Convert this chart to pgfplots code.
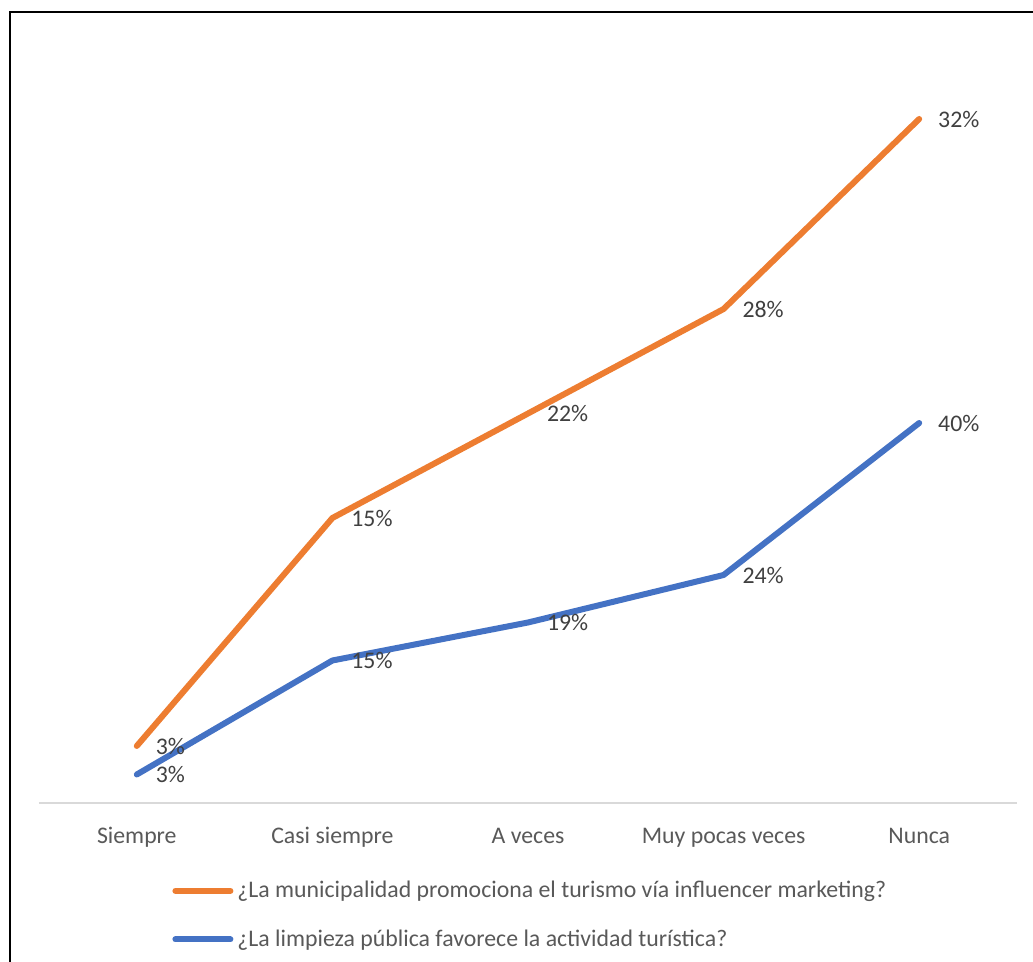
\documentclass[border=0pt]{standalone}
\usepackage{pgfplots}
\pgfplotsset{compat=1.18}
\usepackage{pgfplotstable}
\usepackage{fontspec}
\setmainfont{Carlito}
\definecolor{orangeS}{HTML}{ED7D31}
\definecolor{blueS}{HTML}{4472C4}
\definecolor{txt}{HTML}{595959}
\definecolor{lbl}{HTML}{404040}
\definecolor{axisgray}{HTML}{D9D9D9}

% blue series: ¿La limpieza pública favorece la actividad turística?
\pgfplotstableread{
x y
0 3
1 15
2 19
3 24
4 40
}\blueT
% orange series: ¿La municipalidad promociona el turismo vía influencer marketing?
\pgfplotstableread{
x y
0 3
1 15
2 22
3 28
4 32
}\orangeT

\begin{document}
\begin{tikzpicture}
\useasboundingbox (0,0) rectangle (516.5pt,481pt);
\draw[line width=1pt, black] (5pt,-2pt) -- (5pt,475pt) -- (520pt,475pt);
\begin{axis}[
  at={(19.5pt,79.5pt)}, anchor=south west,
  scale only axis, width=489pt, height=380pt,
  xmin=-0.5, xmax=4.5, ymin=0, ymax=80,
  stack plots=y,
  axis x line*=bottom, axis y line=none,
  x axis line style={-, draw=axisgray, line width=1pt},
  xtick={0,1,2,3,4},
  xticklabels={Siempre, Casi siempre, A veces, Muy pocas veces, Nunca},
  major tick length=0pt,
  ytick=\empty,
  xticklabel style={font=\fontsize{11.9}{14}\selectfont, text=txt, anchor=base, yshift=-20.5pt},
  clip=false,
  point meta=explicit,
  /pgf/number format/assume math mode=true,
  nodes near coords={\pgfmathprintnumber{\pgfplotspointmeta}\%},
  every node near coord/.append style={anchor=west, inner sep=0pt, xshift=8pt, font=\fontsize{11.9}{14}\selectfont, text=lbl},
  reverse legend,
  legend image code/.code={\draw[#1, line width=3pt, line cap=round] (0pt,0pt) -- (27.5pt,0pt);},
  legend style={at={(0.136,-0.097)}, anchor=north west, draw=none, fill=none,
    font=\fontsize{11.9}{14}\selectfont, text=txt, row sep=10.5pt, inner sep=0pt},
  legend cell align=left,
]
\addplot[blueS, line width=3pt, line cap=round, line join=round] table[x=x, y=y, meta=y] {\blueT};
\addlegendentry{¿La limpieza pública favorece la actividad turística?}
\addplot[orangeS, line width=3pt, line cap=round, line join=round] table[x=x, y=y, meta=y] {\orangeT};
\addlegendentry{¿La municipalidad promociona el turismo vía influencer marketing?}
\end{axis}
\end{tikzpicture}
\end{document}
